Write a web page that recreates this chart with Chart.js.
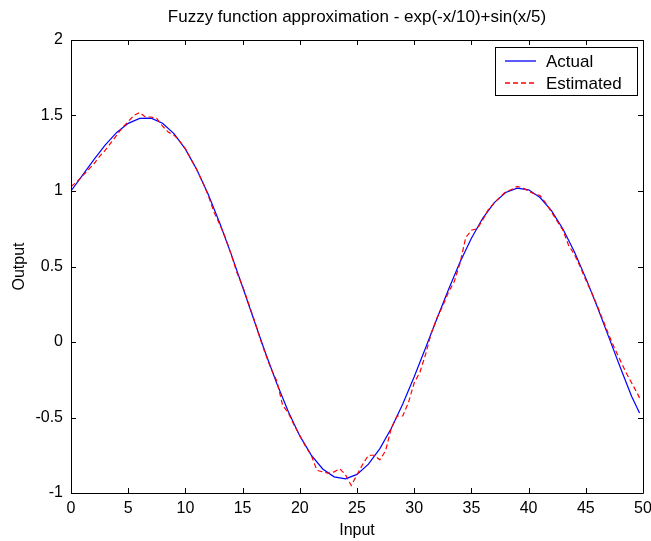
<!DOCTYPE html>
<html>
<head>
<meta charset="utf-8">
<script src="https://cdn.jsdelivr.net/npm/chart.js@4.4.1/dist/chart.umd.min.js"></script>
<style>
html,body{margin:0;padding:0;background:#fff;}
#wrap{width:651px;height:541px;}
</style>
</head>
<body>
<div id="wrap"><canvas id="c" width="651" height="541"></canvas></div>
<script>
// ---- data ----
const titleText = "Fuzzy function approximation - exp(-x/10)+sin(x/5)";
const xLabel = "Input";
const yLabel = "Output";
const seriesNames = ["Actual", "Estimated"];

const actualX = [0,1,2,3,4,5,6,7,8,9,10,11,12,13,14,15,16,17,18,19,20,21,22,23,24,25,26,27,28,29,30,31,32,33,34,35,36,37,38,39,40,41,42,43,44,45,46,47,48,49,49.7];
const actualY = [1.000,1.104,1.208,1.305,1.388,1.448,1.481,1.482,1.449,1.380,1.277,1.141,0.977,0.788,0.582,0.364,0.144,-0.073,-0.277,-0.462,-0.622,-0.749,-0.841,-0.893,-0.906,-0.877,-0.809,-0.706,-0.571,-0.410,-0.230,-0.038,0.157,0.348,0.528,0.687,0.821,0.923,0.990,1.019,1.008,0.957,0.870,0.748,0.597,0.423,0.233,0.034,-0.166,-0.359,-0.470];

const estX = [0,0.5,1,1.5,2,2.5,3,3.5,4,4.5,5,5.5,6,6.5,7,7.5,8,8.5,9,9.5,10,10.5,11,11.5,12,12.5,13,13.5,14,14.5,15,15.5,16,16.5,17,17.5,18,18.5,19,19.5,20,20.5,21,21.5,22,22.5,23,23.5,24,24.5,25,25.5,26,26.5,27,27.5,28,28.5,29,29.5,30,30.5,31,31.5,32,32.5,33,33.5,34,34.5,35,35.5,36,36.5,37,37.5,38,38.5,39,39.5,40,40.5,41,41.5,42,42.5,43,43.5,44,44.5,45,45.5,46,46.5,47,47.5,48,48.5,49,49.5,49.7];
const estY = [1.03,1.06,1.10,1.14,1.18,1.23,1.27,1.32,1.37,1.42,1.46,1.50,1.52,1.49,1.49,1.48,1.43,1.39,1.37,1.33,1.28,1.21,1.14,1.06,0.97,0.86,0.78,0.69,0.58,0.46,0.37,0.26,0.15,0.03,-0.08,-0.18,-0.26,-0.42,-0.47,-0.55,-0.62,-0.69,-0.75,-0.85,-0.86,-0.87,-0.86,-0.84,-0.88,-0.95,-0.88,-0.81,-0.75,-0.75,-0.78,-0.72,-0.57,-0.49,-0.49,-0.40,-0.27,-0.20,-0.08,0.06,0.16,0.24,0.33,0.40,0.52,0.69,0.74,0.75,0.81,0.88,0.92,0.96,0.995,1.01,1.03,1.02,1.00,0.98,0.97,0.92,0.86,0.80,0.74,0.64,0.58,0.50,0.41,0.33,0.24,0.145,0.05,-0.04,-0.12,-0.20,-0.27,-0.34,-0.37];

const xTicks = [0,5,10,15,20,25,30,35,40,45,50];
const yTicks = [-1,-0.5,0,0.5,1,1.5,2];

const FONT = '"Liberation Sans", Arial, sans-serif';

function pts(xs, ys){ return xs.map((x,i)=>({x:x, y:ys[i]})); }

const boxPlugin = {
  id: 'matlabBox',
  afterDatasetsDraw(chart){
    const ctx = chart.ctx, a = chart.chartArea;
    const xs = chart.scales.x, ys = chart.scales.y;
    ctx.save();
    ctx.strokeStyle = '#000';
    ctx.lineWidth = 1;
    ctx.beginPath();
    ctx.rect(Math.round(a.left)+0.5, Math.round(a.top)+0.5, Math.round(a.right-a.left), Math.round(a.bottom-a.top));
    ctx.stroke();
    const tl = 5;
    ctx.beginPath();
    xTicks.forEach(v=>{
      const px = Math.round(xs.getPixelForValue(v))+0.5;
      ctx.moveTo(px, a.bottom); ctx.lineTo(px, a.bottom - tl);
      ctx.moveTo(px, a.top); ctx.lineTo(px, a.top + tl);
    });
    yTicks.forEach(v=>{
      const py = Math.round(ys.getPixelForValue(v))+0.5;
      ctx.moveTo(a.left, py); ctx.lineTo(a.left + tl, py);
      ctx.moveTo(a.right, py); ctx.lineTo(a.right - tl, py);
    });
    ctx.stroke();

    // title
    ctx.fillStyle = '#000';
    ctx.font = '17px ' + FONT;
    ctx.textAlign = 'center';
    ctx.textBaseline = 'middle';
    ctx.fillText(titleText, (a.left + a.right)/2, 17);

    // legend
    const lw = 142, lh = 48;
    const lx = Math.round(a.right - 6 - lw), ly = Math.round(a.top + 7);
    ctx.fillStyle = '#fff';
    ctx.fillRect(lx, ly, lw, lh);
    ctx.strokeStyle = '#000';
    ctx.lineWidth = 1;
    ctx.strokeRect(lx+0.5, ly+0.5, lw, lh);
    const ds = chart.data.datasets;
    [0,1].forEach(i=>{
      const yy = ly + 14 + i*22;
      ctx.strokeStyle = ds[i].borderColor;
      ctx.lineWidth = 1.3;
      ctx.setLineDash(ds[i].borderDash || []);
      ctx.beginPath();
      ctx.moveTo(lx + 10, yy); ctx.lineTo(lx + 41, yy);
      ctx.stroke();
      ctx.setLineDash([]);
      ctx.fillStyle = '#000';
      ctx.font = '17px ' + FONT;
      ctx.textAlign = 'left';
      ctx.textBaseline = 'middle';
      ctx.fillText(ds[i].label, lx + 51, yy + 1);
    });
    ctx.restore();
  }
};

new Chart(document.getElementById('c'), {
  type: 'line',
  data: {
    datasets: [
      { label: seriesNames[0], data: pts(actualX, actualY), borderColor: '#0000ff', borderWidth: 1.2, pointRadius: 0, tension: 0, fill: false, order: 2 },
      { label: seriesNames[1], data: pts(estX, estY), borderColor: '#ff0000', borderWidth: 1.2, borderDash: [5,3], pointRadius: 0, tension: 0, fill: false, order: 1 }
    ]
  },
  options: {
    responsive: false,
    animation: false,
    devicePixelRatio: 1,
    layout: { padding: { top: 40, right: 8, left: 0, bottom: 0 } },
    plugins: { legend: { display: false }, title: { display: false }, tooltip: { enabled: false } },
    scales: {
      x: {
        type: 'linear', min: 0, max: 50,
        grid: { display: false, drawTicks: false },
        border: { display: false },
        afterBuildTicks(s){ s.ticks = xTicks.map(v=>({value:v})); },
        ticks: { color: '#000', font: { family: FONT, size: 16 }, padding: 6, maxRotation: 0, autoSkip: false, callback: v => String(v) },
        title: { display: true, text: xLabel, color: '#000', font: { family: FONT, size: 16 }, padding: { top: 0, bottom: 1 } },
        afterFit(s){ s.height = 48; s.paddingLeft = 0; s.paddingRight = 0; }
      },
      y: {
        type: 'linear', min: -1, max: 2,
        grid: { display: false, drawTicks: false },
        border: { display: false },
        afterBuildTicks(s){ s.ticks = yTicks.map(v=>({value:v})); },
        ticks: { color: '#000', font: { family: FONT, size: 16 }, padding: 8, autoSkip: false, callback: v => String(v) },
        title: { display: true, text: yLabel, color: '#000', font: { family: FONT, size: 16 }, padding: { top: 10, bottom: 0 } },
        afterFit(s){ s.width = 71; s.paddingTop = 0; s.paddingBottom = 0; }
      }
    }
  },
  plugins: [boxPlugin]
});
</script>
</body>
</html>
